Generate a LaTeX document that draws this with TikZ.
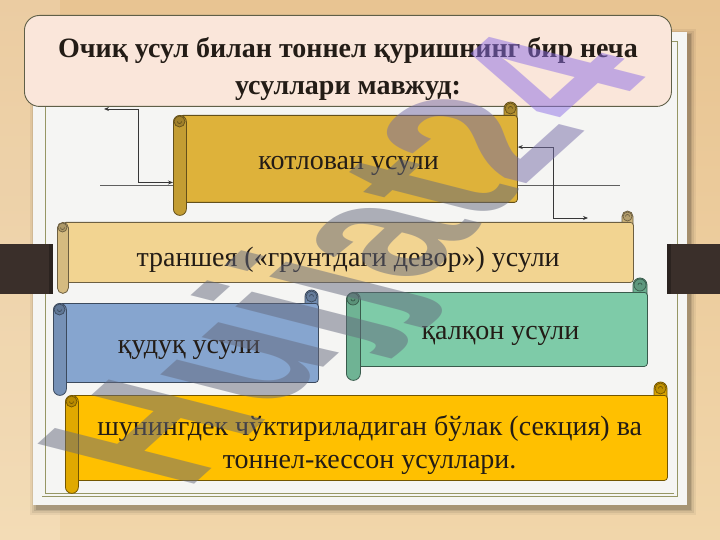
\documentclass[tikz,border=0pt]{standalone}
\usepackage{fontspec}
\setmainfont{Liberation Serif}
\newfontfamily\wmfont{Liberation Sans}
\usetikzlibrary{arrows.meta,calc}

\definecolor{woodtop}{RGB}{232,196,146}
\definecolor{woodbot}{RGB}{241,214,170}
\definecolor{paper}{RGB}{245,245,243}
\definecolor{frameol}{RGB}{150,150,100}
\definecolor{titlefill}{RGB}{250,230,218}
\definecolor{titleline}{RGB}{95,95,72}
\definecolor{barcol}{RGB}{58,47,42}
\definecolor{sgold}{RGB}{222,178,58}
\definecolor{spale}{RGB}{242,212,145}
\definecolor{sblue}{RGB}{134,165,207}
\definecolor{sgreen}{RGB}{126,203,168}
\definecolor{syellow}{RGB}{255,192,0}
\definecolor{txt}{RGB}{35,28,22}
\definecolor{conncol}{RGB}{55,55,55}
\definecolor{wmgray}{RGB}{100,105,125}
\definecolor{wmpurple}{RGB}{140,110,230}

\tikzset{
  conn/.style={draw=conncol, line width=0.8pt, {Stealth[length=5pt,width=4pt]}-{Stealth[length=5pt,width=4pt]}},
  hline/.style={draw=conncol!80, line width=0.7pt},
  scrolltext/.style={text=txt, font=\fontsize{28}{33}\selectfont, align=center, inner sep=0pt},
}

% #1 l, #2 t, #3 r, #4 b, #5 d, #6 colour, #7 name, #8 text
\newcommand\drawscroll[8]{%
  \pgfmathsetmacro\sr{#5/2}%
  \pgfmathsetmacro\bw{#3-#1-#5/2}%
  \pgfmathsetmacro\bh{#4-#2-2*#5}%
  \pgfmathsetmacro\rh{#4-#2-#5}%
  % top right roll
  \filldraw[fill=#6!85!black, draw=#6!45!black, line width=0.8pt, rounded corners=\sr pt]
    (#3-#5,#2) rectangle (#3,#2+2*#5);
  % body
  \node[draw=#6!45!black, fill=#6, line width=0.8pt, rounded corners=3pt,
        minimum width=\bw pt, minimum height=\bh pt, anchor=north west,
        inner sep=0pt] (#7) at (#1+#5/2,#2+#5) {};
  \node[scrolltext] (#7text) at ($(#7.center)+(0,7)$) {#8};
  % top right curl
  \filldraw[fill=#6!75!black, draw=#6!45!black, line width=0.7pt]
    (#3-#5/2,#2+#5/2) circle[radius=\sr pt-1pt];
  \draw[#6!40!black, line width=0.6pt] (#3-#5/2,#2+#5/2) ++(-2,0) arc[start angle=180,end angle=0,radius=2pt];
  % left roll
  \node[draw=#6!45!black, fill=#6!88!black, line width=0.8pt, rounded corners=\sr pt,
        minimum width=#5 pt, minimum height=\rh pt, anchor=north west, inner sep=0pt]
        (#7roll) at (#1,#2+#5) {};
  \filldraw[fill=#6!72!black, draw=#6!45!black, line width=0.7pt]
    (#1+#5/2,#2+1.5*#5) circle[radius=\sr pt-1pt];
  \draw[#6!40!black, line width=0.6pt] (#1+#5/2,#2+1.5*#5) ++(2,0) arc[start angle=0,end angle=-180,radius=2pt];
}

\begin{document}
\begin{tikzpicture}[x=1pt,y=-1pt]
\useasboundingbox (0,0) rectangle (720,540);
% wood background
\shade[top color=woodtop, bottom color=woodbot] (0,0) rectangle (720,540);
\fill[white, opacity=0.15] (0,0) rectangle (60,540);

% paper shadow
\foreach \o/\a in {7/0.05,5/0.07,3/0.09,1.5/0.12}{
  \fill[black, opacity=\a] (33-\o+4,32-\o+4) rectangle (687+\o+2,505+\o+3);
}
\fill[paper] (33,32) rectangle (687,505);
\draw[frameol, line width=0.8pt, double=paper, double distance=2.4pt] (43.5,43.5) rectangle (675.5,495);

% dark bars
\fill[barcol] (0,244) rectangle (53,294);
\fill[barcol] (667,244) rectangle (720,294);
\fill[black, opacity=0.25] (49,244) rectangle (53,294);
\fill[black, opacity=0.25] (667,244) rectangle (671,294);

% title box
\node[draw=titleline, fill=titlefill, line width=0.9pt, rounded corners=15pt,
      minimum width=647pt, minimum height=91pt, anchor=north west, inner sep=0pt] (title) at (24,15) {};
\node[align=center, text=txt, inner sep=0pt, font=\bfseries\fontsize{28}{37}\selectfont] (titletext)
      at ($(title.center)+(0,8)$) {Очиқ усул билан тоннел қуришнинг бир неча\\усуллари мавжуд:};

% horizontal line behind scroll 1
\coordinate (hl1) at (100,185);
\coordinate (hl2) at (620,185);
\draw[hline] (hl1) -- (hl2);

% scrolls
\drawscroll{173}{102}{517}{215}{13}{sgold}{s1}{котлован усули}
\drawscroll{57}{211}{633}{293}{11}{spale}{s2}{траншея («грунтдаги девор») усули}
\drawscroll{53}{290}{318}{395}{13}{sblue}{s3}{қудуқ усули}
\drawscroll{346}{278}{647}{380}{14}{sgreen}{s4}{қалқон усули}
\drawscroll{65}{382}{667}{493}{13}{syellow}{s5}{шунингдек чўктириладиган бўлак (секция) ва\\тоннел-кессон усуллари.}

% connectors
\coordinate (c1) at (104,109);
\coordinate (c2) at (588,218);
\draw[conn] (c1) -- ++(34,0) |- (s1roll.248);
\draw[conn] (s1.4.2) -- ++(36,0) |- (c2);

% watermark
\begin{scope}[shift={(363,264)}, yscale=0.48]
\node[rotate=62, transform shape, inner sep=0pt, text opacity=0.5,
      font=\wmfont\bfseries\fontsize{258}{258}\selectfont] (wm)
      {\textcolor{wmgray}{Hujjat}\textcolor{wmgray!60!wmpurple}{2}\textcolor{wmpurple}{4}};
\end{scope}
\end{tikzpicture}
\end{document}
